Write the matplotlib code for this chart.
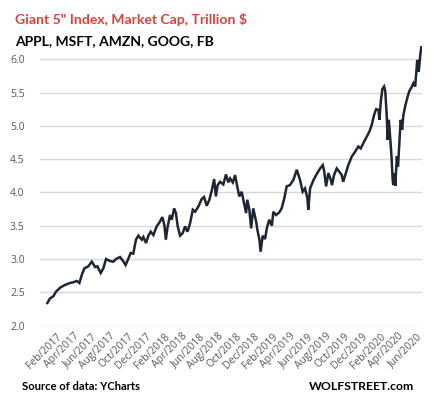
import matplotlib
matplotlib.use("Agg")
import matplotlib.pyplot as plt
import pandas as pd

# ---- data ----
dates = [
    "2017-01-03", "2017-01-12", "2017-01-23", "2017-02-01", "2017-02-15", "2017-03-03",
    "2017-03-20", "2017-03-31", "2017-04-12", "2017-04-21", "2017-04-29", "2017-05-08",
    "2017-05-21", "2017-06-02", "2017-06-13", "2017-06-21", "2017-07-02", "2017-07-11",
    "2017-07-20", "2017-08-02", "2017-08-14", "2017-08-23", "2017-09-05", "2017-09-14",
    "2017-09-24", "2017-10-03", "2017-10-11", "2017-10-20", "2017-10-29", "2017-11-06",
    "2017-11-18", "2017-11-23", "2017-12-02", "2017-12-10", "2017-12-18", "2017-12-27",
    "2018-01-07", "2018-01-18", "2018-01-26", "2018-02-02", "2018-02-07", "2018-02-12",
    "2018-02-21", "2018-02-27", "2018-03-07", "2018-03-13", "2018-03-19", "2018-03-27",
    "2018-04-05", "2018-04-13", "2018-04-21", "2018-04-30", "2018-05-09", "2018-05-17",
    "2018-05-28", "2018-06-08", "2018-06-16", "2018-06-25", "2018-07-04", "2018-07-12",
    "2018-07-20", "2018-07-26", "2018-08-01", "2018-08-09", "2018-08-20", "2018-08-29",
    "2018-09-06", "2018-09-12", "2018-09-21", "2018-09-29", "2018-10-06", "2018-10-13",
    "2018-10-21", "2018-10-29", "2018-11-05", "2018-11-09", "2018-11-16", "2018-11-22",
    "2018-11-29", "2018-12-09", "2018-12-13", "2018-12-20", "2018-12-24", "2018-12-31",
    "2019-01-08", "2019-01-14", "2019-01-22", "2019-01-31", "2019-02-05", "2019-02-14",
    "2019-02-25", "2019-03-05", "2019-03-14", "2019-03-22", "2019-04-02", "2019-04-14",
    "2019-04-25", "2019-05-06", "2019-05-15", "2019-05-23", "2019-05-31", "2019-06-03",
    "2019-06-09", "2019-06-20", "2019-07-02", "2019-07-13", "2019-07-22", "2019-07-27",
    "2019-08-02", "2019-08-10", "2019-08-18", "2019-08-22", "2019-08-29", "2019-09-07",
    "2019-09-16", "2019-09-24", "2019-09-29", "2019-10-09", "2019-10-16", "2019-10-28",
    "2019-11-08", "2019-11-19", "2019-11-27", "2019-12-06", "2019-12-18", "2019-12-26",
    "2020-01-03", "2020-01-11", "2020-01-18", "2020-01-26", "2020-01-29", "2020-02-03",
    "2020-02-08", "2020-02-14", "2020-02-18", "2020-02-23", "2020-02-26", "2020-03-01",
    "2020-03-05", "2020-03-10", "2020-03-14", "2020-03-16", "2020-03-21", "2020-03-23",
    "2020-03-28", "2020-04-01", "2020-04-06", "2020-04-10", "2020-04-15", "2020-04-19",
    "2020-04-26", "2020-05-03", "2020-05-09", "2020-05-18", "2020-05-23", "2020-05-29",
    "2020-06-01", "2020-06-05", "2020-06-10", "2020-06-15", "2020-06-19",
]
market_cap = [
    2.34, 2.41, 2.44, 2.51, 2.57, 2.61,
    2.64, 2.65, 2.67, 2.64, 2.76, 2.86,
    2.89, 2.96, 2.88, 2.89, 2.79, 2.86,
    3.00, 2.97, 2.96, 3.00, 3.03, 2.98,
    2.91, 3.00, 3.09, 3.08, 3.29, 3.35,
    3.29, 3.33, 3.24, 3.35, 3.41, 3.36,
    3.49, 3.56, 3.63, 3.51, 3.29, 3.46,
    3.66, 3.59, 3.76, 3.69, 3.49, 3.35,
    3.39, 3.49, 3.41, 3.54, 3.74, 3.71,
    3.79, 3.90, 3.93, 3.80, 3.89, 4.03,
    4.20, 3.94, 4.11, 4.16, 4.12, 4.27,
    4.15, 4.21, 4.15, 4.26, 4.09, 3.94,
    4.01, 3.84, 3.69, 3.89, 3.74, 3.46,
    3.76, 3.56, 3.44, 3.29, 3.11, 3.35,
    3.30, 3.46, 3.59, 3.50, 3.71, 3.66,
    3.70, 3.76, 3.91, 4.09, 4.11, 4.19,
    4.34, 4.19, 4.01, 4.06, 3.91, 3.74,
    4.06, 4.18, 4.28, 4.36, 4.41, 4.31,
    4.09, 4.29, 4.19, 4.11, 4.26, 4.36,
    4.31, 4.26, 4.16, 4.31, 4.41, 4.54,
    4.61, 4.69, 4.66, 4.74, 4.84, 4.91,
    5.01, 5.16, 5.25, 5.24, 5.09, 5.37,
    5.55, 5.59, 5.52, 5.14, 4.79, 5.09,
    4.86, 4.54, 4.19, 4.11, 4.29, 4.10,
    4.54, 4.39, 4.79, 5.09, 4.94, 5.16,
    5.31, 5.43, 5.52, 5.59, 5.64, 5.59,
    5.76, 5.99, 5.81, 6.06, 6.19,
]
tick_dates = ["2017-02-01", "2017-04-01", "2017-06-01", "2017-08-01", "2017-10-01",
              "2017-12-01", "2018-02-01", "2018-04-01", "2018-06-01", "2018-08-01",
              "2018-10-01", "2018-12-01", "2019-02-01", "2019-04-01", "2019-06-01",
              "2019-08-01", "2019-10-01", "2019-12-01", "2020-02-01", "2020-04-01",
              "2020-06-01"]
y_ticks = [2.0, 2.5, 3.0, 3.5, 4.0, 4.5, 5.0, 5.5, 6.0]

title = 'Giant 5" Index, Market Cap, Trillion $'
subtitle = "APPL, MSFT, AMZN, GOOG, FB"
source = "Source of data: YCharts"
brand = "WOLFSTREET.com"

# ---- figure ----
W, H = 439, 396
fig = plt.figure(figsize=(W / 100, H / 100), dpi=100)
fig.patch.set_facecolor("white")

ax_l, ax_r = 40, 422
ax_top, ax_bot = 45.9, 325.6
ax = fig.add_axes([ax_l / W, 1 - ax_bot / H, (ax_r - ax_l) / W, (ax_bot - ax_top) / H])

x = pd.to_datetime(dates)
ax.plot(x, market_cap, color="#1e2533", lw=1.8, solid_joinstyle="miter")

ax.set_ylim(2.0, 6.2)
ax.set_xlim(pd.Timestamp("2016-12-09"), pd.Timestamp("2020-06-21"))
ax.set_yticks(y_ticks)
ax.set_yticklabels([f"{v:.1f}" for v in y_ticks])
ax.yaxis.grid(True, color="#d9d9d9", lw=1.0)
ax.set_axisbelow(True)
for s in ax.spines.values():
    s.set_visible(False)

tk = pd.to_datetime(tick_dates)
ax.set_xticks(tk)
ax.set_xticklabels([d.strftime("%b/%Y") for d in tk])
ax.tick_params(axis="both", length=0, colors="#595959", labelsize=7.5)
ax.tick_params(axis="y", pad=11)
ax.tick_params(axis="x", pad=4)
for lab in ax.get_xticklabels():
    lab.set_rotation(45)
    lab.set_ha("right")
    lab.set_rotation_mode("anchor")
for lab in ax.get_yticklabels() + ax.get_xticklabels():
    lab.set_fontfamily("Open Sans")

fig.text(15 / W, 1 - 19 / H, title, color="#d8443c", fontsize=10.1, fontweight="bold",
         family="Lato", ha="left", va="center")
fig.text(15 / W, 1 - 41 / H, subtitle, color="black", fontsize=10, fontweight="bold",
         family="Lato", ha="left", va="center")
fig.text(22 / W, 1 - 387 / H, source, color="black", fontsize=8.1, fontweight="bold",
         family="Lato", ha="left", va="center")
fig.text(414 / W, 1 - 387 / H, brand, color="black", fontsize=8.8, fontweight="bold",
         family="Lato", ha="right", va="center")

fig.savefig("out.png", dpi=100)
